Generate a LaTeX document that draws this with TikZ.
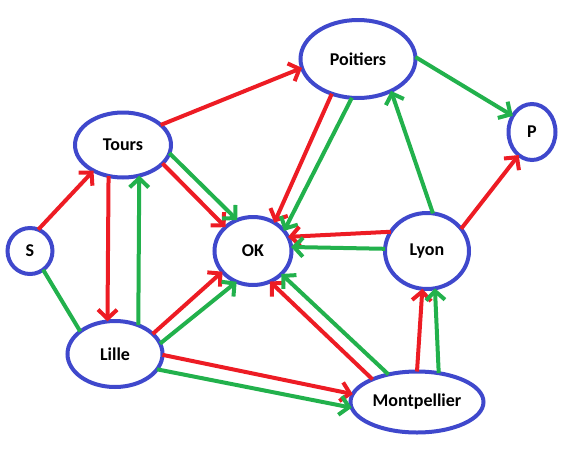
\documentclass[tikz,border=0pt]{standalone}
\usepackage{fontspec}
\setmainfont{Carlito}
\usepackage{xcolor}
\usetikzlibrary{shapes.geometric, arrows.meta}

\definecolor{paintred}{HTML}{ED1C24}
\definecolor{paintgreen}{HTML}{22B14C}
\definecolor{paintblue}{HTML}{3F48CC}

\tikzset{
	city/.style={draw=paintblue, line width=4pt, ellipse, inner sep=0pt, outer sep=0pt, font=\fontsize{18}{20}\selectfont\bfseries},
	redway/.style={draw=paintred, line width=4pt, -{Straight Barb[length=9pt,width=19pt]}},
	greenway/.style={draw=paintgreen, line width=4pt, -{Straight Barb[length=9pt,width=19pt]}}
}

\begin{document}
\begin{tikzpicture}[x=1pt, y=-1pt]
		\useasboundingbox (0,0) rectangle (587,472);
		\node[city, minimum width=45pt, minimum height=46pt] (s) at (30,251) {S};
		\node[city, minimum width=96pt, minimum height=65pt] (tours) at (123,145) {Tours};
		\node[city, minimum width=77pt, minimum height=68pt] (ok) at (253,251) {OK};
		\node[city, minimum width=84pt, minimum height=76pt] (lyon) at (427,251) {Lyon};
		\node[city, minimum width=115pt, minimum height=78pt] (poitiers) at (358,59) {Poitiers};
		\node[city, minimum width=47pt, minimum height=56pt] (p) at (532,132) {P};
		\node[city, minimum width=95pt, minimum height=66pt] (lille) at (115,354) {Lille};
		\node[city, minimum width=133pt, minimum height=61pt] (montpellier) at (417,402) {Montpellier};
		% LEFT SIDE
		\draw[redway] (s.69) -- (tours.221);
		\draw[draw=paintgreen, line width=4pt] (s.305) -- (lille.147);
		\draw[redway] (tours.245) -- (lille.103);
		\draw[greenway] (lille.51) -- (tours.298);
		\draw[redway] (tours.28) -- (poitiers.189);
		\draw[redway] (tours.335) -- (ok.139);
		\draw[greenway] (tours.350) -- (ok.117);
		% TOP AND RIGHT
		\draw[redway] (poitiers.233) -- (ok.53);
		\draw[greenway] (poitiers.261) -- (ok.33);
		\draw[greenway] (poitiers.2) -- (p.140);
		\draw[greenway] (lyon.81) -- (poitiers.316);
		\draw[redway] (lyon.33) -- (p.240);
		\draw[redway] (lyon.152) -- (ok.22);
		\draw[greenway] (lyon.177) -- (ok.6);
		% BOTTOM
		\draw[redway] (lille.28) -- (ok.214);
		\draw[greenway] (lille.13) -- (ok.242);
		\draw[redway] (lille.359) -- (montpellier.173);
		\draw[greenway] (lille.340) -- (montpellier.185);
		\draw[redway] (montpellier.153) -- (ok.299);
		\draw[greenway] (montpellier.136) -- (ok.321);
		\draw[redway] (montpellier.90) -- (lyon.263);
		\draw[greenway] (montpellier.53) -- (lyon.282);
	\end{tikzpicture}
\end{document}
